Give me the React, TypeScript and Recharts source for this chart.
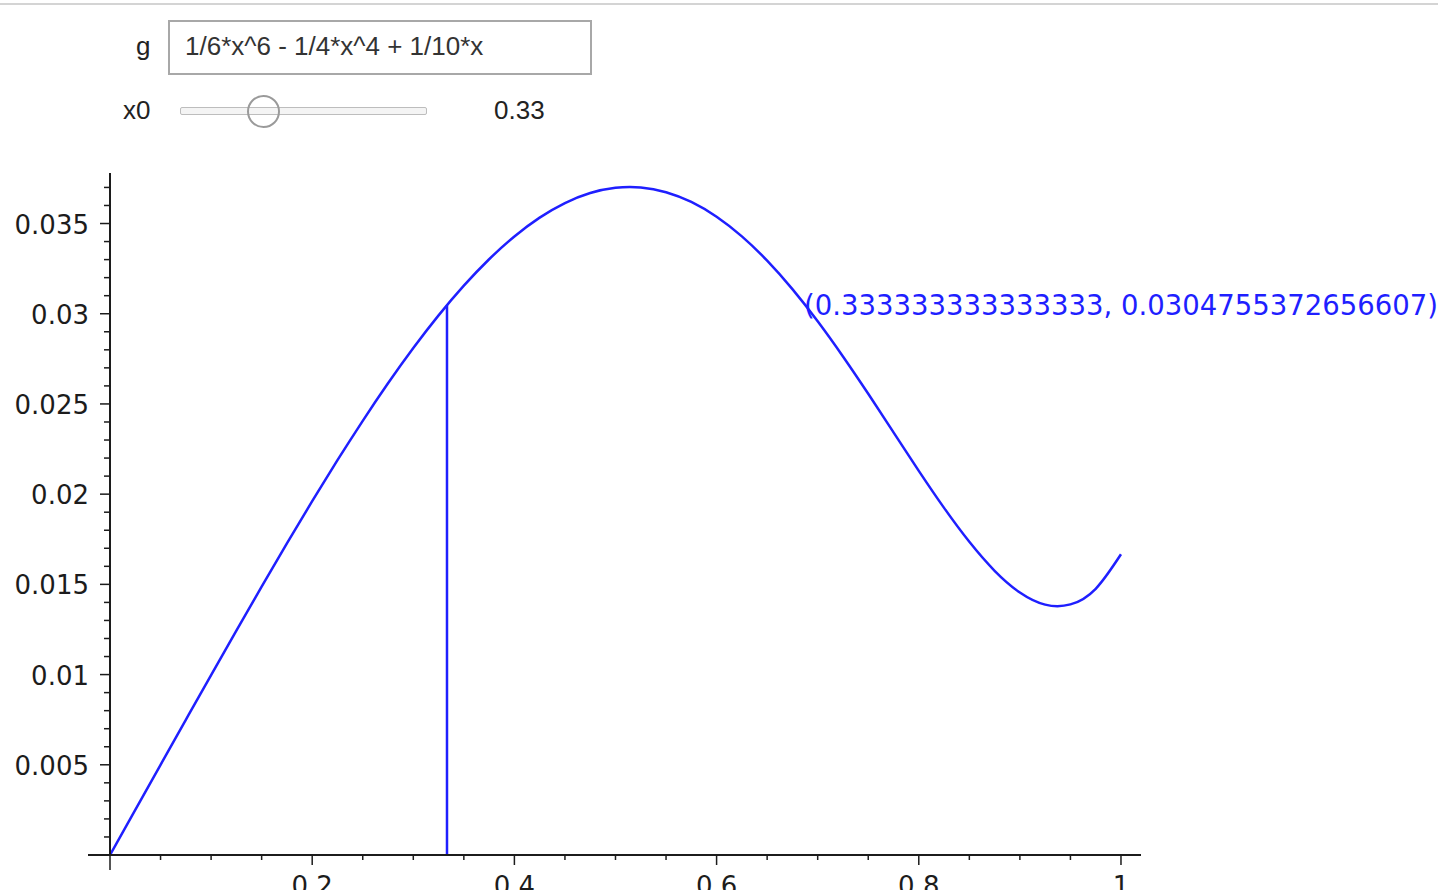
import { LineChart, Line, XAxis, YAxis, ReferenceLine, ReferenceDot } from 'recharts'

const curveX = [
  0, 0.025, 0.05, 0.075, 0.1, 0.125, 0.15, 0.175, 0.2, 0.225, 0.25, 0.275, 0.3, 0.325,
  0.35, 0.375, 0.4, 0.425, 0.45, 0.475, 0.5, 0.525, 0.55, 0.575, 0.6, 0.625, 0.65, 0.675,
  0.7, 0.725, 0.75, 0.775, 0.8, 0.825, 0.85, 0.875, 0.9, 0.925, 0.95, 0.975, 1,
]
const curveY = [
  0, 0.0025, 0.005, 0.00749, 0.009975, 0.01244, 0.014875, 0.01727, 0.019611, 0.021881,
  0.024064, 0.026142, 0.028097, 0.029907, 0.031555, 0.03302, 0.034283, 0.035326, 0.036132,
  0.036688, 0.036979, 0.036998, 0.036737, 0.036195, 0.035376, 0.034287, 0.032943, 0.031366,
  0.029583, 0.027633, 0.025562, 0.023425, 0.021291, 0.019238, 0.017357, 0.015754, 0.014549,
  0.013876, 0.013889, 0.014756, 0.016667,
]

const x0 = 0.333333333333333
const gx0 = 0.0304755372656607
const pointLabel = '(0.333333333333333, 0.0304755372656607)'

const xTicks = [
  0, 0.05, 0.1, 0.15, 0.2, 0.25, 0.3, 0.35, 0.4, 0.45, 0.5, 0.55, 0.6, 0.65, 0.7, 0.75,
  0.8, 0.85, 0.9, 0.95, 1,
]
const xMajor = [0.2, 0.4, 0.6, 0.8, 1]
const yTicks = [
  0, 0.001, 0.002, 0.003, 0.004, 0.005, 0.006, 0.007, 0.008, 0.009, 0.01, 0.011, 0.012,
  0.013, 0.014, 0.015, 0.016, 0.017, 0.018, 0.019, 0.02, 0.021, 0.022, 0.023, 0.024, 0.025,
  0.026, 0.027, 0.028, 0.029, 0.03, 0.031, 0.032, 0.033, 0.034, 0.035, 0.036, 0.037,
]
const yMajor = [0.005, 0.01, 0.015, 0.02, 0.025, 0.03, 0.035]

const ink = '#1c1c1c'
const blue = '#1f1fff'
const plotFont = '"DejaVu Sans", sans-serif'
const uiFont = '"Liberation Sans", Arial, sans-serif'

const data = curveX.map((x, i) => ({ x, y: curveY[i] }))

function XTick({ x, y, payload }: any) {
  const v = payload.value
  const major = xMajor.includes(v)
  const len = v === 0 ? 15 : major ? 10 : 5
  return (
    <g>
      <line x1={x} x2={x} y1={y} y2={y + len} stroke={ink} strokeWidth={1.5} />
      {major && (
        <text x={x} y={y + 40} textAnchor="middle" fontSize={26} fontFamily={plotFont} fill={ink}>
          {String(v)}
        </text>
      )}
    </g>
  )
}

function YTick({ x, y, payload }: any) {
  const v = payload.value
  const major = yMajor.includes(v)
  if (v === 0) {
    return <line x1={x - 22} x2={x} y1={y} y2={y} stroke={ink} strokeWidth={2} />
  }
  return (
    <g>
      <line x1={x - (major ? 10 : 6)} x2={x} y1={y} y2={y} stroke={ink} strokeWidth={1.5} />
      {major && (
        <text x={x - 21} y={y + 1} textAnchor="end" dominantBaseline="central" fontSize={26} fontFamily={plotFont} fill={ink}>
          {String(v)}
        </text>
      )}
    </g>
  )
}

export default function App() {
  return (
    <div style={{ position: 'absolute', left: 0, top: 0, width: 1438, height: 890, overflow: 'hidden', background: '#fff' }}>
      <div style={{ position: 'absolute', left: 0, top: 3, width: 1438, height: 2, background: '#d4d4d4' }} />

      <div style={{ position: 'absolute', zIndex: 1, fontFamily: uiFont, fontSize: 26, color: '#222' }}>
        <div style={{ position: 'absolute', left: 136, top: 31, width: 20 }}>g</div>
        <div style={{
          position: 'absolute', left: 168, top: 20, width: 420, height: 51,
          border: '2px solid #a8a8a8', boxSizing: 'content-box',
        }} />
        <div style={{ position: 'absolute', left: 185, top: 31, whiteSpace: 'nowrap', color: '#333' }}>
          1/6*x^6 - 1/4*x^4 + 1/10*x
        </div>
        <div style={{ position: 'absolute', left: 123, top: 95 }}>x0</div>
        <div style={{
          position: 'absolute', left: 180, top: 107, width: 245, height: 6,
          border: '1px solid #bdbdbd', background: '#f4f4f4', borderRadius: 2,
        }} />
        <div style={{
          position: 'absolute', left: 247, top: 95, width: 29, height: 29,
          border: '2px solid #9a9a9a', borderRadius: '50%', background: 'transparent',
        }} />
        <div style={{ position: 'absolute', left: 494, top: 95 }}>0.33</div>
      </div>

      <div style={{ position: 'absolute', left: 0, top: 0 }}>
        <LineChart width={1438} height={890} data={data} margin={{ top: 173, right: 297, bottom: 5, left: 10 }}>
          <XAxis
            type="number"
            dataKey="x"
            domain={[0, 1.0198]}
            ticks={xTicks}
            interval={0}
            height={30}
            tickSize={0}
            tickMargin={0}
            tickLine={false}
            allowDataOverflow
            axisLine={{ stroke: ink, strokeWidth: 2 }}
            tick={<XTick />}
          />
          <YAxis
            type="number"
            domain={[0, 0.0378]}
            ticks={yTicks}
            interval={0}
            width={100}
            tickSize={0}
            tickMargin={0}
            tickLine={false}
            allowDataOverflow
            axisLine={{ stroke: ink, strokeWidth: 2 }}
            tick={<YTick />}
          />
          <Line
            type="natural"
            dataKey="y"
            stroke={blue}
            strokeWidth={2.5}
            dot={false}
            isAnimationActive={false}
          />
          <ReferenceLine
            segment={[{ x: x0, y: 0 }, { x: x0, y: gx0 }]}
            stroke={blue}
            strokeWidth={2.5}
            ifOverflow="visible"
          />
          <ReferenceDot
            x={1}
            y={gx0}
            r={1}
            fill="none"
            stroke="none"
            ifOverflow="visible"
            label={{ value: pointLabel, position: 'center', fill: blue, fontSize: 27.5, fontFamily: plotFont }}
          />
        </LineChart>
      </div>
    </div>
  )
}
